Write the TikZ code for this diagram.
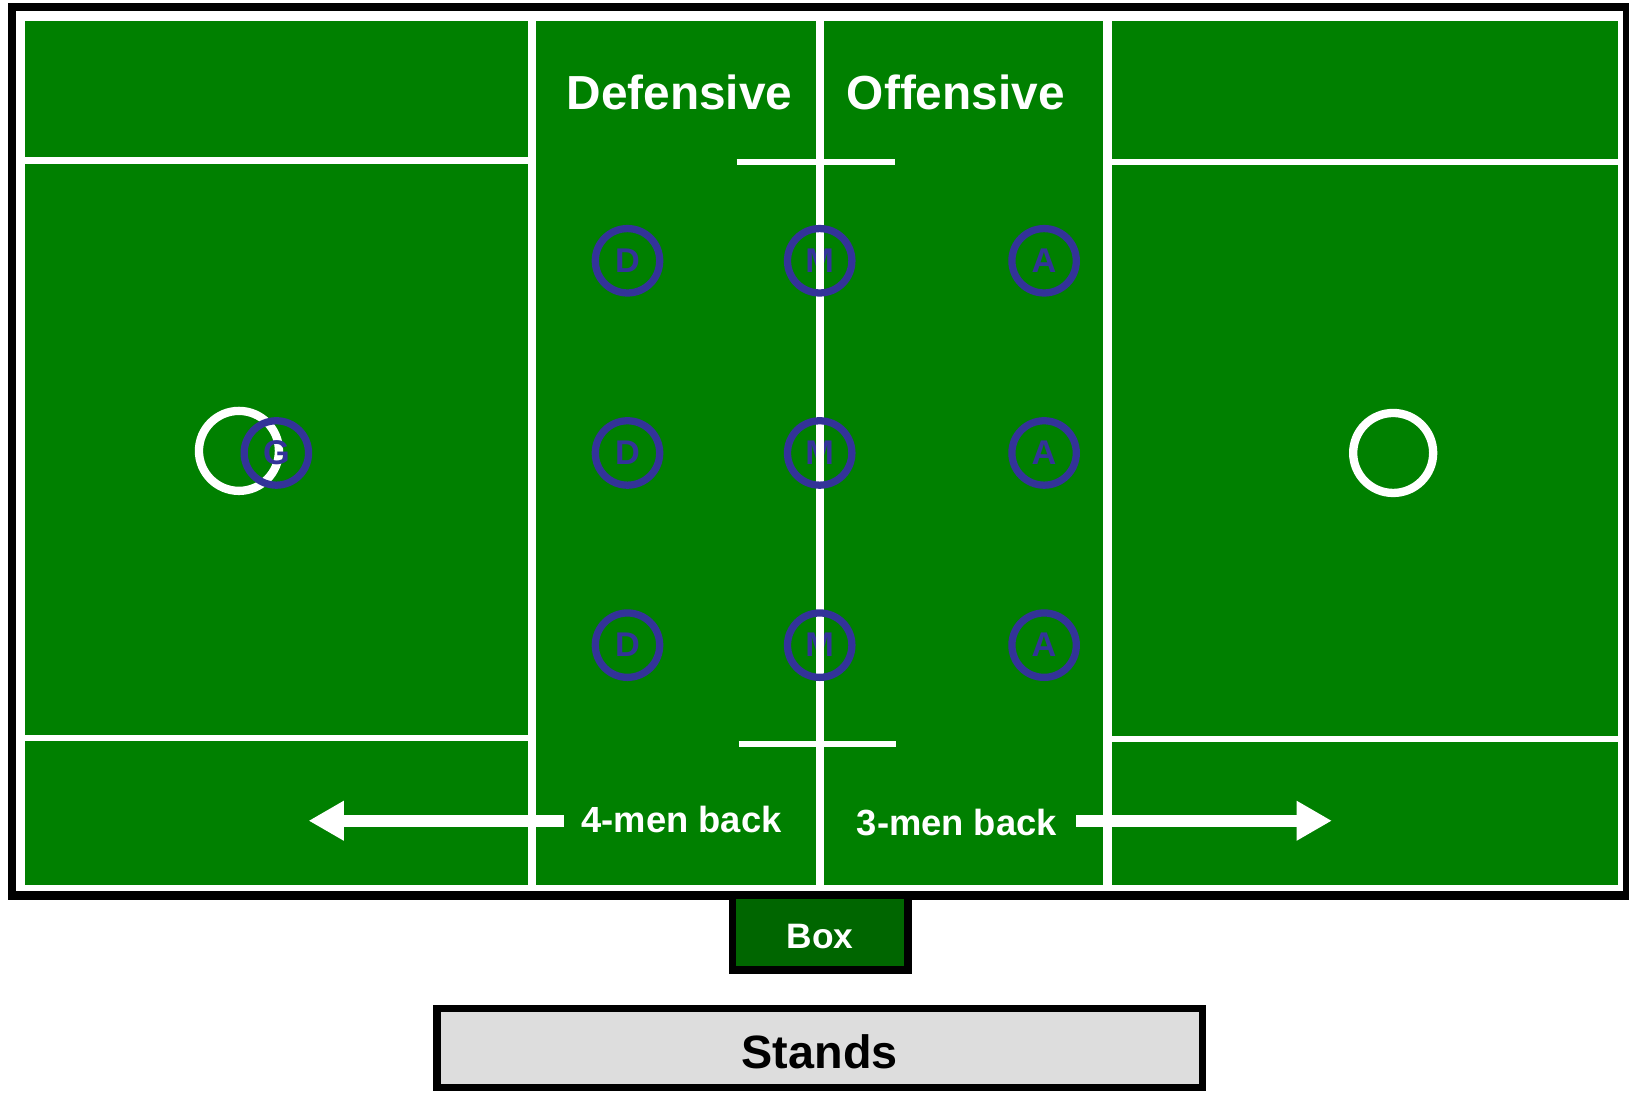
\documentclass[tikz,border=0pt]{standalone}
\usepackage{fontspec}
\setmainfont{Liberation Sans}
\usetikzlibrary{arrows.meta}
\definecolor{fieldgreen}{RGB}{0,128,0}
\definecolor{boxgreen}{RGB}{0,102,0}
\definecolor{pblue}{RGB}{51,51,153}
\definecolor{standgray}{RGB}{221,221,221}
\tikzset{
  fieldline/.style={white,line width=6pt},
  divline/.style={white,line width=8pt},
  ring/.style={circle,draw=pblue,line width=7pt,minimum size=62pt,inner sep=0pt},
  letter/.style={text=pblue,font=\fontsize{33}{33}\selectfont\bfseries,inner sep=0pt},
  zonelabel/.style={text=white,font=\fontsize{46}{46}\selectfont\bfseries,inner sep=0pt},
  backlabel/.style={text=white,font=\fontsize{35}{35}\selectfont\bfseries,inner sep=0pt},
  goalcircle/.style={circle,draw=white,line width=8pt,minimum size=77pt,inner sep=0pt},
  bigarrow/.style={white,line width=12pt,-{Triangle[length=34pt,width=36pt]}},
}
\begin{document}
\begin{tikzpicture}[x=1pt,y=-1pt]
\useasboundingbox (0,0) rectangle (1568,1052);
% outer frame
\draw[line width=8pt,fill=white] (11.5,7) rectangle (1566,862);
\fill[fieldgreen] (24,20) rectangle (1557,851.5);
% coordinates
\coordinate (vl1t) at (512,14); \coordinate (vl1b) at (512,858);
\coordinate (vl2t) at (789,14); \coordinate (vl2b) at (789,858);
\coordinate (vl3t) at (1066,14); \coordinate (vl3b) at (1066,858);
\coordinate (lh1a) at (18,154.5); \coordinate (lh1b) at (512,154.5);
\coordinate (lh2a) at (18,710); \coordinate (lh2b) at (512,710);
\coordinate (rh1a) at (1066,156); \coordinate (rh1b) at (1562,156);
\coordinate (rh2a) at (1066,711); \coordinate (rh2b) at (1562,711);
\coordinate (ch1a) at (709,156); \coordinate (ch1b) at (861,156);
\coordinate (ch2a) at (711,716); \coordinate (ch2b) at (862,716);
% field lines
\draw[divline] (vl1t) -- (vl1b);
\draw[divline] (vl3t) -- (vl3b);
\draw[fieldline] (lh1a) -- (lh1b);
\draw[fieldline] (lh2a) -- (lh2b);
\draw[fieldline] (rh1a) -- (rh1b);
\draw[fieldline] (rh2a) -- (rh2b);
\draw[fieldline] (ch1a) -- (ch1b);
\draw[fieldline] (ch2a) -- (ch2b);
% labels
\node[zonelabel] (def) at (654,89) {Defensive};
\node[zonelabel] (off) at (920,89) {Offensive};
% goals
\node[goalcircle] (goalL) at (230,434) {};
\node[goalcircle] (goalR) at (1341,436) {};
% midfield letters under the centre line
\node[letter] (m1) at (789,251) {M};
\node[letter] (m2) at (789,436) {M};
\node[letter] (m3) at (789,621) {M};
\draw[white,line width=7.5pt] (vl2t) -- (vl2b);
\node[ring] (m1r) at (m1) {};
\node[ring] (m2r) at (m2) {};
\node[ring] (m3r) at (m3) {};
% defenders and attackers
\foreach \y/\i in {251/1,436/2,621/3}{
  \node[ring] (d\i r) at (604,\y) {};
  \node[letter] (d\i) at (604,\y) {D};
  \node[ring] (a\i r) at (1005,\y) {};
  \node[letter] (a\i) at (1005,\y) {A};
}
% goalie
\node[ring] (gr) at (266,436) {};
\node[letter] (g) at (266,436) {G};
% back arrows
\node[backlabel] (four) at (656,789) {4-men back};
\node[backlabel] (three) at (921,792) {3-men back};
\coordinate (fourS) at (543,790); \coordinate (fourT) at (297,790);
\coordinate (threeS) at (1036,790); \coordinate (threeT) at (1282,790);
\draw[bigarrow] (fourS) -- (fourT);
\draw[bigarrow] (threeS) -- (threeT);
% box
\draw[line width=7.5pt,fill=boxgreen] (705,862) rectangle (874,934);
\node[text=white,font=\fontsize{34}{34}\selectfont\bfseries] (box) at (789.5,901) {Box};
% stands
\draw[line width=7pt,fill=standgray] (420.5,970.5) rectangle (1157.5,1046.5);
\node[text=black,font=\fontsize{45}{45}\selectfont\bfseries] (stands) at (789,1012) {Stands};
\end{tikzpicture}
\end{document}
